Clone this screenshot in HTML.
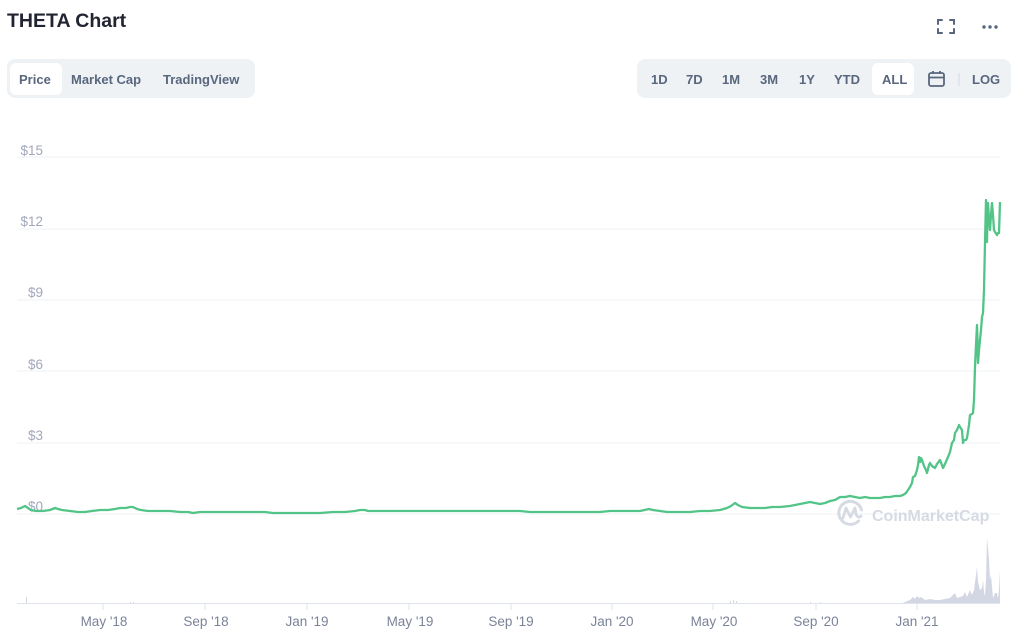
<!DOCTYPE html>
<html><head><meta charset="utf-8"><style>
html,body{margin:0;padding:0;background:#fff;}
body{width:1024px;height:637px;overflow:hidden;font-family:"Liberation Sans",sans-serif;}
svg{display:block;}
</style></head><body>
<svg width="1024" height="637" viewBox="0 0 1024 637" xmlns="http://www.w3.org/2000/svg" font-family="Liberation Sans, sans-serif">
<rect width="1024" height="637" fill="#fff"/>
<!-- title -->
<text x="7" y="27" font-size="19.5" font-weight="bold" fill="#222531">THETA Chart</text>
<!-- fullscreen icon -->
<g stroke="#58667e" stroke-width="2" fill="none" stroke-linecap="round">
<path d="M938 24V20H942M950 20H954V24M954 29V33H950M942 33H938V29"/>
</g>
<g fill="#58667e"><circle cx="984" cy="27" r="1.7"/><circle cx="990" cy="27" r="1.7"/><circle cx="996" cy="27" r="1.7"/></g>
<!-- left tabs -->
<rect x="7" y="59" width="248" height="39" rx="8" fill="#eff2f5"/>
<rect x="10" y="63" width="52" height="32" rx="6" fill="#fff"/>
<g font-size="13" font-weight="bold" fill="#58667e">
<text x="19" y="84">Price</text>
<text x="71" y="84">Market Cap</text>
<text x="163" y="84">TradingView</text>
</g>
<!-- right tabs -->
<rect x="637" y="59" width="374" height="39" rx="8" fill="#eff2f5"/>
<rect x="872" y="63" width="42" height="32" rx="6" fill="#fff"/>
<g font-size="13" font-weight="bold" fill="#58667e">
<text x="651" y="84">1D</text>
<text x="686" y="84">7D</text>
<text x="722" y="84">1M</text>
<text x="760" y="84">3M</text>
<text x="799" y="84">1Y</text>
<text x="834" y="84">YTD</text>
<text x="882" y="84">ALL</text>
<text x="972" y="84">LOG</text>
</g>
<g stroke="#58667e" stroke-width="1.8" fill="none">
<rect x="929" y="73" width="15" height="13" rx="2"/>
<path d="M929 77.5H944M933 71V74M940 71V74"/>
</g>
<line x1="959" y1="73" x2="959" y2="86" stroke="#d6dae3" stroke-width="1"/>
<!-- gridlines -->
<g stroke="#eff2f5" stroke-width="1">
<line x1="17" y1="157" x2="1000" y2="157"/>
<line x1="17" y1="229" x2="1000" y2="229"/>
<line x1="17" y1="300" x2="1000" y2="300"/>
<line x1="17" y1="371" x2="1000" y2="371"/>
<line x1="17" y1="443" x2="1000" y2="443"/>
<line x1="17" y1="514" x2="1000" y2="514"/>
</g>
<g font-size="13.5" fill="#a1a7bb" text-anchor="end">
<text x="43" y="155">$15</text>
<text x="43" y="226">$12</text>
<text x="43" y="297">$9</text>
<text x="43" y="369">$6</text>
<text x="43" y="440">$3</text>
<text x="43" y="511">$0</text>
</g>
<!-- watermark -->
<g>
<path d="M858.5 521A11.5 11.5 0 1 1 861.5 510" stroke="#d6dae3" stroke-width="3" fill="none" stroke-linecap="round"/>
<path d="M843 518L846 508L850.5 517L855 508L856 514Q858 519 861 516" stroke="#d6dae3" stroke-width="2.8" fill="none" stroke-linecap="round" stroke-linejoin="round"/>
<text x="872" y="521" font-size="16" font-weight="bold" fill="#d6dae3">CoinMarketCap</text>
</g>
<!-- volume -->
<g fill="#d3d7e4">
<rect x="26" y="597" width="1" height="7"/>
<rect x="130" y="602" width="1" height="2"/>
<rect x="133" y="602" width="1" height="2"/>
<rect x="730" y="601" width="1" height="3"/>
<rect x="733" y="600" width="1" height="4"/>
<rect x="736" y="601" width="1" height="3"/>
<rect x="810" y="602" width="1" height="2"/>
<rect x="820" y="602" width="1" height="2"/>
<path d="M900 604L905 602L910 600L913 597L915 599L917 596L919 598L921 597L925 600L930 599L935 600L940 600L945 599L950 598L955 593L957 598L960 597L963 596L965 592L967 597L970 590L972 595L974 590L976 575L977 567L978 582L980 590L982 588L983 580L984 592L985 596L986 580L987 538L988 548L989 560L990 580L991 575L992 587L993 598L995 593L997 593L998 598L999 590L1000 570L1000 604Z"/>
</g>
<!-- x axis -->
<line x1="17" y1="603.5" x2="1000" y2="603.5" stroke="#dfe3ec" stroke-width="1"/>
<g stroke="#dfe3ec" stroke-width="1">
<line x1="103" y1="604" x2="103" y2="610"/>
<line x1="205" y1="604" x2="205" y2="610"/>
<line x1="307" y1="604" x2="307" y2="610"/>
<line x1="409" y1="604" x2="409" y2="610"/>
<line x1="511" y1="604" x2="511" y2="610"/>
<line x1="612" y1="604" x2="612" y2="610"/>
<line x1="713" y1="604" x2="713" y2="610"/>
<line x1="816" y1="604" x2="816" y2="610"/>
<line x1="917" y1="604" x2="917" y2="610"/>
</g>
<g font-size="13.5" fill="#7b8398" text-anchor="middle">
<text x="104" y="626">May '18</text>
<text x="206" y="626">Sep '18</text>
<text x="307" y="626">Jan '19</text>
<text x="410" y="626">May '19</text>
<text x="511" y="626">Sep '19</text>
<text x="612" y="626">Jan '20</text>
<text x="714" y="626">May '20</text>
<text x="816" y="626">Sep '20</text>
<text x="917" y="626">Jan '21</text>
</g>
<!-- price line -->
<polyline fill="none" stroke="#52c487" stroke-width="2.3" stroke-linejoin="round" points="17,509 21,508 25,506 28,508 31,510 36,511 43,511 50,510 55,508 58,509 62,510 70,511 78,512 85,512 92,511 100,510 108,510 115,509 120,508 126,508 130,507 133,507 137,509 141,510 148,511 155,511 162,511 170,511 180,512 188,512 193,513 200,512 210,512 220,512 233,512 245,512 255,512 265,512 273,513 282,513 290,513 300,513 310,513 320,513 333,512 345,512 355,511 360,510 365,510 368,511 375,511 383,511 393,511 400,511 410,511 420,511 430,511 440,511 450,511 460,511 470,511 480,511 490,511 500,511 510,511 520,511 530,512 540,512 550,512 560,512 570,512 580,512 590,512 600,512 610,511 620,511 630,511 640,511 649,509 653,510 660,511 667,512 673,512 680,512 690,512 700,511 710,511 720,510 727,508 731,506 735,503 738,505 742,507 750,508 757,508 765,508 772,507 780,507 790,506 795,505 800,504 805,503 810,502 815,503 820,504 825,503 830,501 835,500 840,497 845,497 850,496 855,497 860,498 865,497 870,498 875,498 880,498 885,497 890,497 895,496 900,496 903,495 906,493 908,490 910,487 912,483 913,477 915,476 917,470 918,465 919,457 920,462 921,458 922,460 924,466 926,470 927,473 929,465 930,463 932,466 935,468 937,464 940,460 942,465 943,468 945,464 948,457 950,452 952,443 954,440 955,433 957,430 959,425 960,427 962,430 963,443 964,440 966,440 967,438 969,425 970,415 972,414 973,413 974,400 975,367 976,345 977,325 977.5,340 978,363 979,350 980,340 981,330 982,317 983,313 984,290 985,243 986,200 986.5,230 987,242 987.5,215 988,203 989,220 990,230 991,215 992,203 993,215 994,230 995,232 997,235 998,233 999,233 1000,202"/>
</svg>
</body></html>
